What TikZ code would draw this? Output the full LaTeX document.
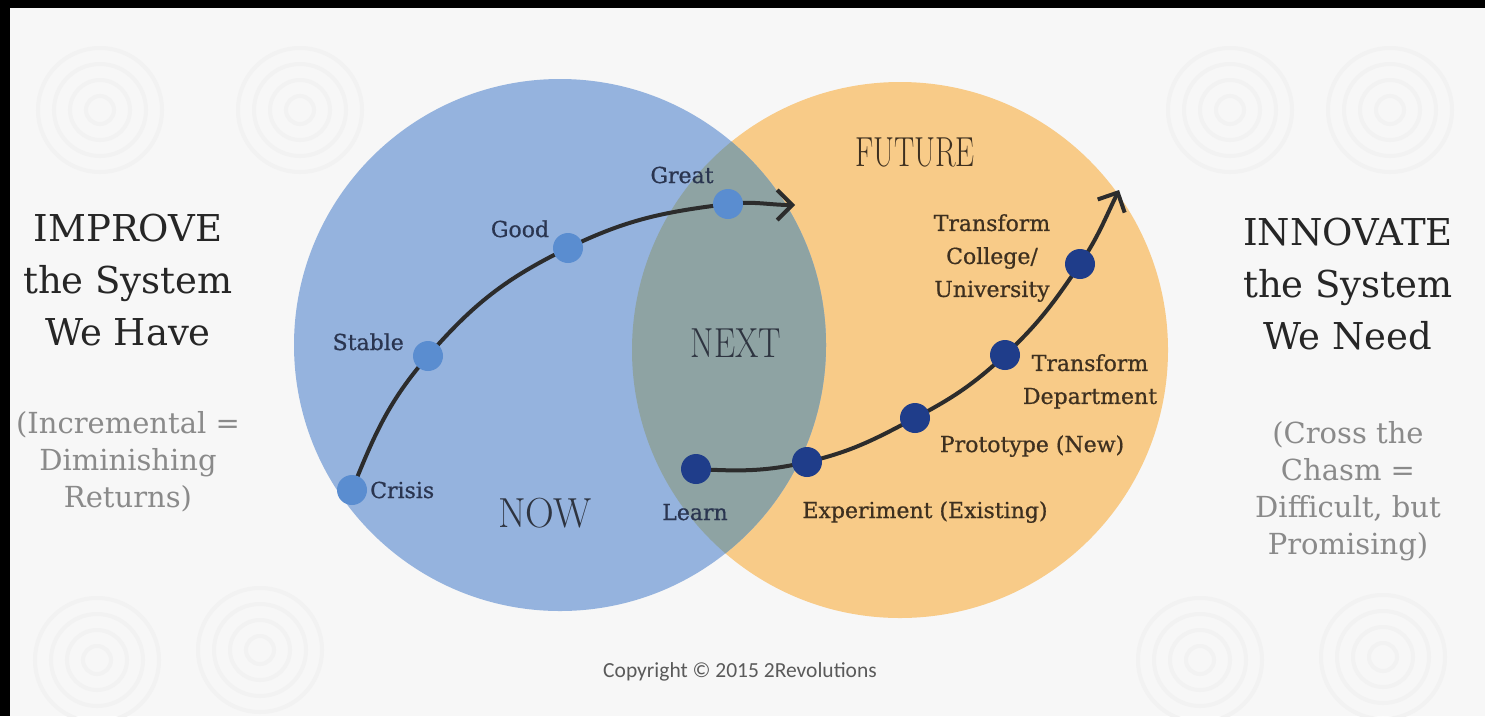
\documentclass[tikz,border=0pt]{standalone}
\usepackage{fontspec}
\usetikzlibrary{arrows.meta}
\newfontfamily\slab{DejaVu Serif}
\newfontfamily\slablbl[FakeBold=0.7]{DejaVu Serif}
\newfontfamily\cpyfont{Carlito}
\newcommand\squeezetxt[2]{\scalebox{#1}[1]{#2}}
\definecolor{bgc}{HTML}{F7F7F7}
\definecolor{swirlc}{HTML}{F2F2F2}
\definecolor{nowblue}{HTML}{95B3DE}
\definecolor{futorange}{HTML}{F8CB88}
\definecolor{lens}{HTML}{8EA3A3}
\definecolor{dotblue}{HTML}{5A8DD0}
\definecolor{dotnavy}{HTML}{1F3D8A}
\definecolor{curvec}{HTML}{2C2C2C}
\definecolor{headc}{HTML}{262626}
\definecolor{subc}{HTML}{8A8A8A}
\definecolor{lblblue}{HTML}{2A3550}
\definecolor{lblbrown}{HTML}{3E3020}
\definecolor{bigc}{HTML}{2E3440}
\definecolor{cpyc}{HTML}{5A5A5A}
\begin{document}
\begin{tikzpicture}[x=1pt,y=1pt,
  head/.style={font=\slab\fontsize{37}{52}\selectfont, text=headc, align=center, inner sep=0, anchor=north},
  sub/.style={font=\slab\fontsize{29}{37}\selectfont, text=subc, align=center, inner sep=0, anchor=north},
  lbl/.style={font=\slablbl\fontsize{22}{33}\selectfont, inner sep=0},
  big/.style={font=\fontsize{42}{42}\selectfont, inner sep=0, anchor=base},
  bdot/.style={circle, fill=dotblue, minimum size=30pt, inner sep=0},
  ndot/.style={circle, fill=dotnavy, minimum size=30pt, inner sep=0},
  curveline/.style={draw=curvec, line width=4pt},
  tipped/.style={-{Straight Barb[length=15pt,width=30pt]}},
  swirl/.style={draw=swirlc, line width=4pt}
]
\fill[black] (0,0) rectangle (1485,-716);
\fill[bgc] (10,-8) rectangle (1485,-716);
\useasboundingbox (0,0) rectangle (1485,-716);

% faint background swirls
\foreach \cx/\cy in {100/-110, 300/-110, 1390/-110, 97/-660, 1383/-657, 260/-650, 1200/-660, 1230/-110}{
  \foreach \r in {14,30,46,62}{
    \draw[swirl] (\cx,\cy) circle[radius=\r];
  }
}

% circles
\fill[futorange] (900,-350) circle[radius=268];
\fill[nowblue] (560,-345) circle[radius=266];
\begin{scope}
  \clip (560,-345) circle[radius=266];
  \fill[lens] (900,-350) circle[radius=268];
\end{scope}

% side texts
\node[head] (improve) at (128,-214) {IMPROVE\\the System\\We Have};
\node[sub] (incr) at (128,-411) {(Incremental =\\Diminishing\\Returns)};
\node[head] (innovate) at (1348,-218) {INNOVATE\\the System\\We Need};
\node[sub] (cross) at (1348,-421) {(Cross the\\Chasm =\\Difficult, but\\Promising)};

% big region labels
\node[big, text=bigc] (now) at (545,-527) {\squeezetxt{0.95}{NOW}};
\node[big, text=bigc] (next) at (736,-357) {\squeezetxt{0.8}{NEXT}};
\node[big, text=lblbrown] (future) at (915,-166) {\squeezetxt{0.72}{FUTURE}};

% point coordinates
\coordinate (p1) at (352,-490);
\coordinate (p2) at (428,-356);
\coordinate (p3) at (568,-248);
\coordinate (p4) at (728,-204);
\coordinate (greattip) at (795,-205);
\coordinate (q1) at (696,-469);
\coordinate (q2) at (807,-462);
\coordinate (q3) at (915,-418);
\coordinate (q4) at (1005,-355);
\coordinate (q5) at (1080,-264);
\coordinate (futtip) at (1119,-190);

% curves
\draw[curveline,tipped] (p1) to[out=68,in=229] (p2) to[out=49,in=206] (p3)
  to[out=26,in=187] (p4) to[out=7,in=180] (greattip);
\draw[curveline,tipped] (q1) to[out=-3,in=193] (q2) to[out=13,in=208] (q3)
  to[out=28,in=223] (q4) to[out=43,in=236] (q5) to[out=56,in=244] (futtip);

% dots
\node[bdot] (crisis) at (p1) {};
\node[bdot] (stable) at (p2) {};
\node[bdot] (good) at (p3) {};
\node[bdot] (great) at (p4) {};
\node[ndot] (learn) at (q1) {};
\node[ndot] (exper) at (q2) {};
\node[ndot] (proto) at (q3) {};
\node[ndot] (dept) at (q4) {};
\node[ndot] (college) at (q5) {};

% labels
\node[lbl, text=lblblue, anchor=base west] (lcrisis) at (370,-498) {Crisis};
\node[lbl, text=lblblue, anchor=base east] (lstable) at (404,-350) {Stable};
\node[lbl, text=lblblue, anchor=base] (lgood) at (520,-237) {Good};
\node[lbl, text=lblblue, anchor=base] (lgreat) at (682,-183) {Great};
\node[lbl, text=lblblue, anchor=base] (llearn) at (695,-520) {Learn};
\node[lbl, text=lblbrown, anchor=base] (lexper) at (925,-518) {Experiment (Existing)};
\node[lbl, text=lblbrown, anchor=base] (lproto) at (1032,-452) {Prototype (New)};
\node[lbl, text=lblbrown, align=center, anchor=north] (ldept) at (1090,-354) {Transform\\Department};
\node[lbl, text=lblbrown, align=center, anchor=north] (lcollege) at (992,-214) {Transform\\College/\\University};

% copyright
\node[font=\cpyfont\fontsize{21.5}{21.5}\selectfont, text=cpyc, anchor=base, inner sep=0] (copy) at (740,-677) {Copyright © 2015 2Revolutions};
\end{tikzpicture}
\end{document}
